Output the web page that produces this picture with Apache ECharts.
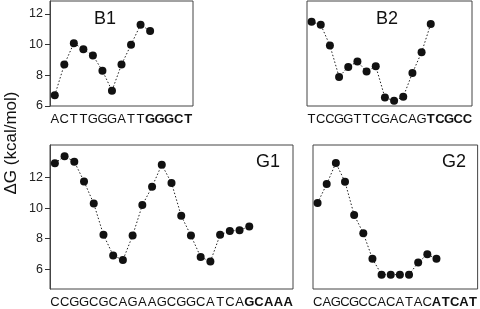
<!DOCTYPE html>
<html><head><meta charset="utf-8">
<script src="https://cdn.jsdelivr.net/npm/echarts@6/dist/echarts.min.js"></script>
<style>html,body{margin:0;padding:0;background:#fff}#c{width:480px;height:309px}</style>
</head><body><div id="c"></div>
<script>
// Sequences (category tick labels); the last 5 letters are bold
const b1Seq = ['A','C','T','T','G','G','G','A','T','T','G','G','G','C','T'];
const b2Seq = ['T','C','C','G','G','T','T','C','G','A','C','A','G','T','C','G','C','C'];
const g1Seq = ['C','C','G','G','C','G','C','A','G','A','A','G','C','G','G','C','A','T','C','A','G','C','A','A','A'];
const g2Seq = ['C','A','G','C','G','C','C','A','C','A','T','A','C','A','T','C','A','T'];
// ΔG values (kcal/mol)
const b1Values = [6.7, 8.7, 10.1, 9.7, 9.3, 8.3, 7.0, 8.7, 10.0, 11.3, 10.9];
const b2Values = [11.5, 11.3, 9.95, 7.9, 8.55, 8.9, 8.25, 8.6, 6.55, 6.35, 6.6, 8.15, 9.5, 11.35];
const g1Values = [12.95, 13.4, 13.05, 11.75, 10.3, 8.25, 6.9, 6.6, 8.2, 10.2, 11.4, 12.85, 11.65, 9.5, 8.2, 6.8, 6.5, 8.25, 8.5, 8.55, 8.8];
const g2Values = [10.3, 11.55, 12.95, 11.7, 9.5, 8.3, 6.6, 5.55, 5.55, 5.55, 5.55, 6.35, 6.9, 6.6];
// panel names and y tick labels
const panelNames = ['B1', 'B2', 'G1', 'G2'];
const yTicks = [6, 8, 10, 12];
const yName = 'ΔG (kcal/mol)';

const FONT = 'Liberation Sans, Arial, sans-serif';
const seqs = [b1Seq, b2Seq, g1Seq, g2Seq];
const vals = [b1Values, b2Values, g1Values, g2Values];

const grids = [
  {left: 50, top: 1, width: 143, height: 105},
  {left: 307, top: 1, width: 165, height: 105},
  {left: 50, top: 145, width: 243, height: 144},
  {left: 313, top: 145, width: 165, height: 145}
];
const yRanges = [[6, 12.85], [6, 12.85], [4.7, 14.14], [4.6, 14.14]];
const titlePos = [[94, 10], [376, 10], [256, 153], [442, 153]];

const option = {
  animation: false,
  backgroundColor: '#fff',
  title: panelNames.map((t, i) => ({
    text: t, left: titlePos[i][0], top: titlePos[i][1], padding: 0,
    textStyle: {fontFamily: FONT, fontSize: 18, fontWeight: 'normal', color: '#111'}
  })),
  grid: grids.map(g => Object.assign({show: true, borderColor: '#444', borderWidth: 1, backgroundColor: 'transparent', containLabel: false}, g)),
  xAxis: seqs.map((s, i) => ({
    type: 'category', gridIndex: i, data: s, boundaryGap: true,
    axisLine: {show: false}, axisTick: {show: false},
    axisLabel: {
      interval: 0, hideOverlap: false, margin: 7,
      fontFamily: FONT, fontSize: 13, color: '#111',
      formatter: (v, idx) => idx >= s.length - 5 ? '{b|' + v + '}' : v,
      rich: {b: {fontFamily: FONT, fontSize: 13, fontWeight: 'bold', color: '#111'}}
    },
    splitLine: {show: false}
  })),
  yAxis: vals.map((v, i) => ({
    type: 'value', gridIndex: i, min: yRanges[i][0], max: yRanges[i][1],
    axisLine: {show: i === 0 || i === 2, lineStyle: {color: '#444', width: 1}},
    axisTick: {show: i === 0 || i === 2, customValues: yTicks, length: 5, inside: false, lineStyle: {color: '#333', width: 1}},
    axisLabel: {show: i === 0 || i === 2, customValues: yTicks, margin: 7, fontFamily: FONT, fontSize: 12.5, color: '#222'},
    splitLine: {show: false}
  })),
  series: vals.map((v, i) => ({
    type: 'line', xAxisIndex: i, yAxisIndex: i, data: v,
    symbol: 'circle', symbolSize: 8,
    itemStyle: {color: '#111'},
    lineStyle: {color: '#222', width: 1, type: [1.5, 2]}
  })),
  graphic: [{
    type: 'text', x: 11, y: 143, rotation: Math.PI / 2,
    style: {text: yName, font: '17px ' + FONT, fill: '#111', align: 'center', verticalAlign: 'middle'}
  }]
};
echarts.init(document.getElementById('c'), null, {renderer: 'canvas'}).setOption(option);
</script></body></html>
